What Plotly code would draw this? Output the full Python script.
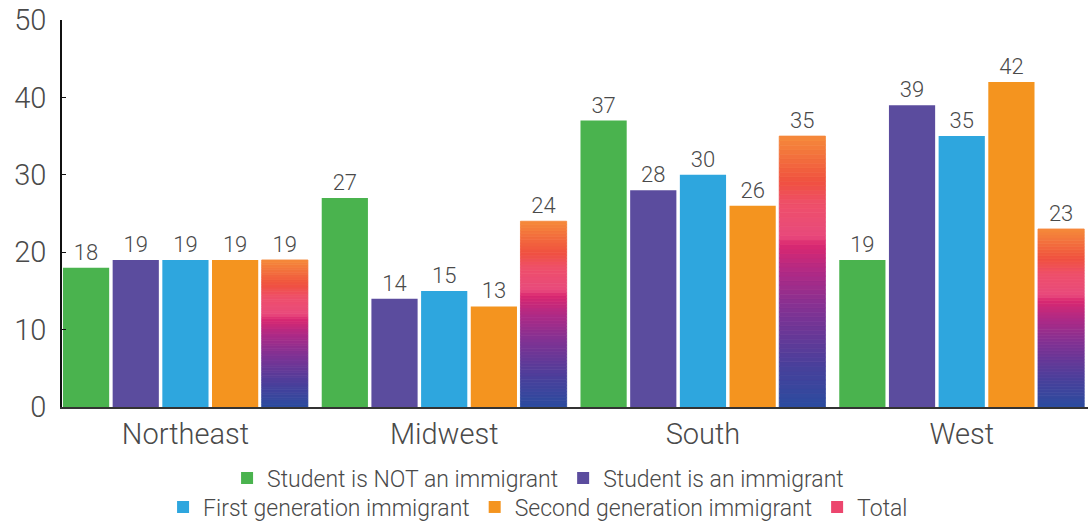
import plotly.graph_objects as go

regions = ["Northeast", "Midwest", "South", "West"]
not_immigrant = [18, 27, 37, 19]
immigrant = [19, 14, 28, 39]
first_gen = [19, 15, 30, 35]
second_gen = [19, 13, 26, 42]
total = [19, 24, 35, 23]

series_names = ["Student is NOT an immigrant", "Student is an immigrant",
                "First generation immigrant", "Second generation immigrant"]
series_colors = ["#4AB34E", "#5B4C9E", "#2EA6DE", "#F4941F"]
series_legend = ["legend", "legend", "legend2", "legend2"]

# gradient stops for the "Total" bars (bottom -> top)
grad_stops = [(0.0, (43, 76, 159)), (0.15, (72, 64, 155)), (0.35, (126, 50, 148)),
              (0.5, (176, 42, 133)), (0.6, (218, 40, 112)), (0.63, (232, 74, 124)),
              (0.75, (238, 79, 106)), (0.83, (240, 80, 64)), (1.0, (245, 138, 58))]

def grad_color(t):
    for (t0, c0), (t1, c1) in zip(grad_stops[:-1], grad_stops[1:]):
        if t0 <= t <= t1:
            f = (t - t0) / (t1 - t0) if t1 > t0 else 0
            c = [round(a + (b - a) * f) for a, b in zip(c0, c1)]
            return "rgb(%d,%d,%d)" % tuple(c)
    return "rgb(%d,%d,%d)" % grad_stops[-1][1]

FONT = "Roboto"
W = 300
TXT = "#4a4a4a"

fig = go.Figure()
data = [not_immigrant, immigrant, first_gen, second_gen]
for i, (name, vals, col, lg) in enumerate(zip(series_names, data, series_colors, series_legend)):
    fig.add_trace(go.Bar(
        x=regions, y=vals, name=name, marker=dict(color=col, line=dict(width=0)),
        offsetgroup=str(i), legend=lg,
        text=[str(v) for v in vals], textposition="outside",
        textfont=dict(size=22, color=TXT, family=FONT, weight=W), cliponaxis=False,
    ))

N = 60
for k in range(N):
    t = (k + 0.5) / N
    seg = [v / N for v in total]
    base = [v * k / N for v in total]
    last = (k == N - 1)
    col = grad_color(t)
    fig.add_trace(go.Bar(
        x=regions, y=seg, base=base, name="Total", offsetgroup="4",
        legend="legend2", showlegend=False,
        marker=dict(color=col, line=dict(width=0.8, color=col)),
        text=[str(v) for v in total] if last else None,
        textposition="outside" if last else None,
        textfont=dict(size=22, color=TXT, family=FONT, weight=W), cliponaxis=False,
        hoverinfo="skip",
    ))
# legend entry for Total
fig.add_trace(go.Bar(x=[None], y=[None], name="Total", legend="legend2",
                     marker=dict(color="rgb(236,70,110)", line=dict(width=0))))

fig.update_layout(
    width=1088, height=521,
    margin=dict(l=62, r=0, t=20, b=114, autoexpand=False),
    plot_bgcolor="white", paper_bgcolor="white",
    barmode="group", bargap=0.04, bargroupgap=0.07,
    font=dict(family=FONT, color=TXT, weight=W),
    xaxis=dict(range=[-0.477, 3.488], showline=True, linecolor="#333", linewidth=1.5,
               tickfont=dict(size=29, color=TXT, family=FONT, weight=W), ticks="",
               showgrid=False, automargin=False),
    yaxis=dict(range=[0, 50], dtick=10, showline=True, linecolor="#111", linewidth=1.5,
               ticks="inside", ticklen=4, tickcolor="#111", showgrid=False, zeroline=False,
               automargin=False, ticklabelstandoff=8,
               tickfont=dict(size=29, color=TXT, family=FONT, weight=W)),
    legend=dict(orientation="h", x=0.464, xanchor="center", y=-0.1835, yanchor="middle",
                font=dict(size=23, color=TXT, family=FONT, weight=W), itemwidth=30,
                traceorder="normal", bgcolor="rgba(0,0,0,0)"),
    legend2=dict(orientation="h", x=0.464, xanchor="center", y=-0.2584, yanchor="middle",
                 font=dict(size=23, color=TXT, family=FONT, weight=W), itemwidth=30,
                 traceorder="normal", bgcolor="rgba(0,0,0,0)"),
    showlegend=True,
)

fig.write_html("out.html", config={"displayModeBar": False},
               post_script="document.body.style.margin='0px';document.body.style.overflow='hidden';")
